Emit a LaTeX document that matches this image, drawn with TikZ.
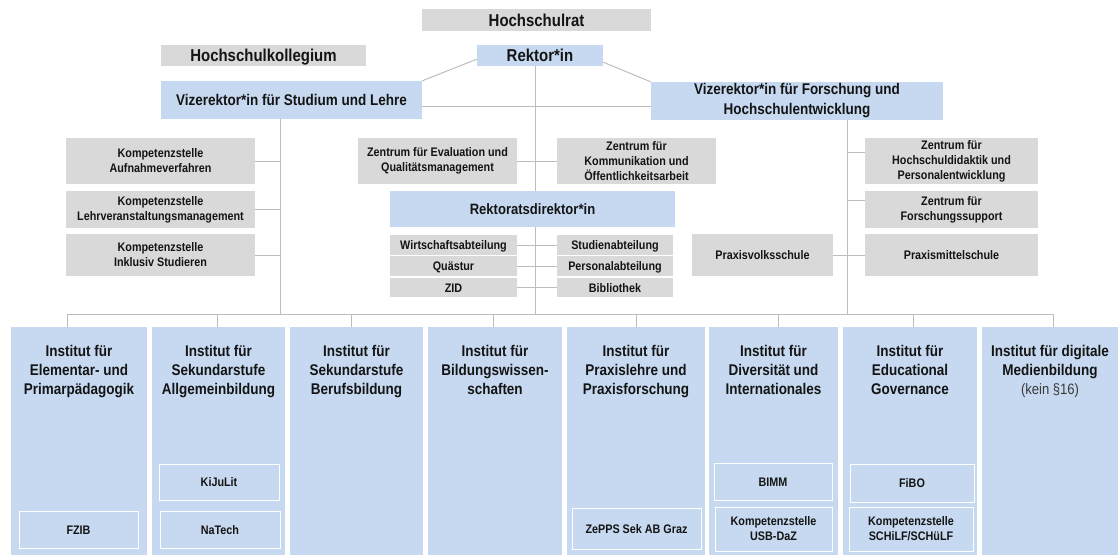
\documentclass[tikz,border=0pt]{standalone}
\usepackage{fontspec}
\setmainfont[FakeStretch=0.87]{Liberation Sans}
\usetikzlibrary{backgrounds,calc}
\definecolor{gr}{HTML}{D9D9D9}
\definecolor{bl}{HTML}{C6D9F0}
\definecolor{ln}{HTML}{BDBDBD}
\definecolor{tx}{HTML}{141414}
\definecolor{gtx}{HTML}{3A3A3A}
\begin{document}
\begin{tikzpicture}[x=1pt,y=-1pt,
  box/.style={inner sep=0pt, align=center, text=tx},
  gbox/.style={box, fill=gr},
  bbox/.style={box, fill=bl},
  big/.style={font=\fontsize{17.2}{18}\selectfont\bfseries, text height=12.4pt, text depth=0pt},
  mid/.style={font=\fontsize{15.5}{20}\selectfont\bfseries},
  small/.style={font=\fontsize{12.4}{15}\selectfont\bfseries},
  one/.style={text height=9pt, text depth=0pt},
  wh/.style n args={2}{minimum width=#1, minimum height=#2},
  inst/.style={fill=bl, inner sep=0pt, minimum width=#1, minimum height=228, anchor=north},
  ititle/.style={box, anchor=north, font=\fontsize{15.5}{19}\selectfont\bfseries},
  sub/.style={box, fill=bl, draw=white, line width=1pt, font=\fontsize{12.4}{15}\selectfont\bfseries},
  conn/.style={draw=ln, line width=1pt},
]
\useasboundingbox (0,0) rectangle (1118,555);

% top level
\node[gbox, big, wh={229}{22}] (hrat) at (536.5,20) {Hochschulrat};
\node[gbox, big, wh={205}{21}] (hkol) at (263.5,55.5) {Hochschulkollegium};
\node[bbox, big, wh={126}{21}] (rekt) at (540,55.5) {Rektor*in};
\node[bbox, mid, wh={261}{38}, text height=11.2pt, text depth=0pt] (vrsl) at (291.5,100) {Vizerektor*in für Studium und Lehre};
\node[bbox, mid, wh={292}{38}] (vrfh) at (797,101) {Vizerektor*in für Forschung und\\Hochschulentwicklung};

% left column
\node[gbox, small, wh={189}{46}] (ksa) at (160.5,161) {Kompetenzstelle\\Aufnahmeverfahren};
\node[gbox, small, wh={189}{37}] (ksl) at (160.5,209.5) {Kompetenzstelle\\Lehrveranstaltungsmanagement};
\node[gbox, small, wh={189}{42}] (ksi) at (160.5,255) {Kompetenzstelle\\Inklusiv Studieren};

% middle column
\node[gbox, small, wh={159}{46}] (zeq) at (437.5,161) {Zentrum für Evaluation und\\Qualitätsmanagement};
\node[gbox, small, wh={159}{46}] (zko) at (636.5,161) {Zentrum für\\Kommunikation und\\Öffentlichkeitsarbeit};
\node[bbox, font=\fontsize{15}{16}\selectfont\bfseries, text height=10.8pt, text depth=0pt, wh={285}{36}] (rdir) at (532.5,209) {Rektoratsdirektor*in};
\node[gbox, small, one, wh={127}{20}] (wir) at (453.5,245) {Wirtschaftsabteilung};
\node[gbox, small, one, wh={127}{20}] (qua) at (453.5,266) {Quästur};
\node[gbox, small, one, wh={127}{19}] (zid) at (453.5,287.5) {ZID};
\node[gbox, small, one, wh={116}{20}] (stu) at (615,245) {Studienabteilung};
\node[gbox, small, one, wh={116}{20}] (per) at (615,266) {Personalabteilung};
\node[gbox, small, one, wh={116}{19}] (bib) at (615,287.5) {Bibliothek};

% right column
\node[gbox, small, wh={173}{46}] (zhd) at (951.5,161) {Zentrum für\\Hochschuldidaktik und\\Personalentwicklung};
\node[gbox, small, wh={173}{37}] (zfs) at (951.5,209.5) {Zentrum für\\Forschungssupport};
\node[gbox, small, one, wh={173}{42}] (pms) at (951.5,255) {Praxismittelschule};
\node[gbox, small, one, wh={141}{42}] (pvs) at (762.5,255) {Praxisvolksschule};

% institutes
\node[inst=136] (i1) at (79,327) {};
\node[inst=133] (i2) at (218.5,327) {};
\node[inst=133] (i3) at (356.5,327) {};
\node[inst=134] (i4) at (495,327) {};
\node[inst=138] (i5) at (636,327) {};
\node[inst=129] (i6) at (773.5,327) {};
\node[inst=134] (i7) at (910,327) {};
\node[inst=136] (i8) at (1050,327) {};

\node[ititle] (t1) at (79,345.5) {Institut für\\Elementar- und\\Primarpädagogik};
\node[ititle] (t2) at (218.5,345.5) {Institut für\\Sekundarstufe\\Allgemeinbildung};
\node[ititle] (t3) at (356.5,345.5) {Institut für\\Sekundarstufe\\Berufsbildung};
\node[ititle] (t4) at (495,345.5) {Institut für\\Bildungswissen-\\schaften};
\node[ititle] (t5) at (636,345.5) {Institut für\\Praxislehre und\\Praxisforschung};
\node[ititle] (t6) at (773.5,345.5) {Institut für\\Diversität und\\Internationales};
\node[ititle] (t7) at (910,345.5) {Institut für\\Educational\\Governance};
\node[ititle] (t8) at (1050,345.5) {Institut für digitale\\Medienbildung\\{\fontsize{15}{18}\selectfont\mdseries\color{gtx}(kein §16)}};

% sub units
\node[sub, one, wh={119}{37}] (fzib) at (78.5,529.5) {FZIB};
\node[sub, one, wh={120}{36}] (kiju) at (219,482) {KiJuLit};
\node[sub, one, wh={120}{37}] (natc) at (220,529.5) {NaTech};
\node[sub, one, wh={129}{41}] (zepp) at (636.5,528.5) {ZePPS Sek AB Graz};
\node[sub, one, wh={118}{37}] (bimm) at (773,481.5) {BIMM};
\node[sub, wh={117}{44}] (usb) at (773.5,529) {Kompetenzstelle\\USB-DaZ};
\node[sub, one, wh={124}{38}] (fibo) at (912,483) {FiBO};
\node[sub, wh={124}{44}] (schi) at (911,529) {Kompetenzstelle\\SCHiLF/SCHüLF};

\begin{scope}[on background layer]
  \coordinate (sp) at (535,314);
  \coordinate (lsp) at (280,314);
  \coordinate (rsp) at (847,314);
  \draw[conn] ($(rekt.south west)+(0,-7)$) -- (vrsl.north east);
  \draw[conn] ($(rekt.south east)+(0,-4)$) -- (vrfh.north west);
  \coordinate (vh) at ($(vrsl.east)+(0,6)$);
  \draw[conn] (vh) -- (vh -| vrfh.west);
  \draw[conn] (rekt.south -| sp) -- (sp);
  \draw[conn] (vrsl.south -| lsp) -- (lsp);
  \draw[conn] (vrfh.south -| rsp) -- (rsp);
  \draw[conn] (ksa.east) -- (ksa.east -| lsp);
  \draw[conn] (ksl.east) -- (ksl.east -| lsp);
  \draw[conn] (ksi.east) -- (ksi.east -| lsp);
  \draw[conn] (zeq.east) -- (zko.west);
  \draw[conn] (wir.east) -- (stu.west);
  \draw[conn] (qua.east) -- (per.west);
  \draw[conn] (zid.east) -- (bib.west);
  \coordinate (h1) at ($(zhd.west)+(0,-9)$);
  \coordinate (h2) at ($(zfs.west)+(0,-9)$);
  \draw[conn] (h1) -- (h1 -| rsp);
  \draw[conn] (h2) -- (h2 -| rsp);
  \draw[conn] (pvs.east) -- (pms.west);
  \coordinate (d1) at (67,314);
  \coordinate (d2) at (217,314);
  \coordinate (d3) at (351,314);
  \coordinate (d4) at (493,314);
  \coordinate (d5) at (636,314);
  \coordinate (d6) at (778,314);
  \coordinate (d7) at (913,314);
  \coordinate (d8) at (1053,314);
  \draw[conn] (d1) -- (d8);
  \foreach \k in {1,...,8} {\draw[conn] (d\k) -- (d\k |- i\k.north);}
\end{scope}
\end{tikzpicture}
\end{document}
